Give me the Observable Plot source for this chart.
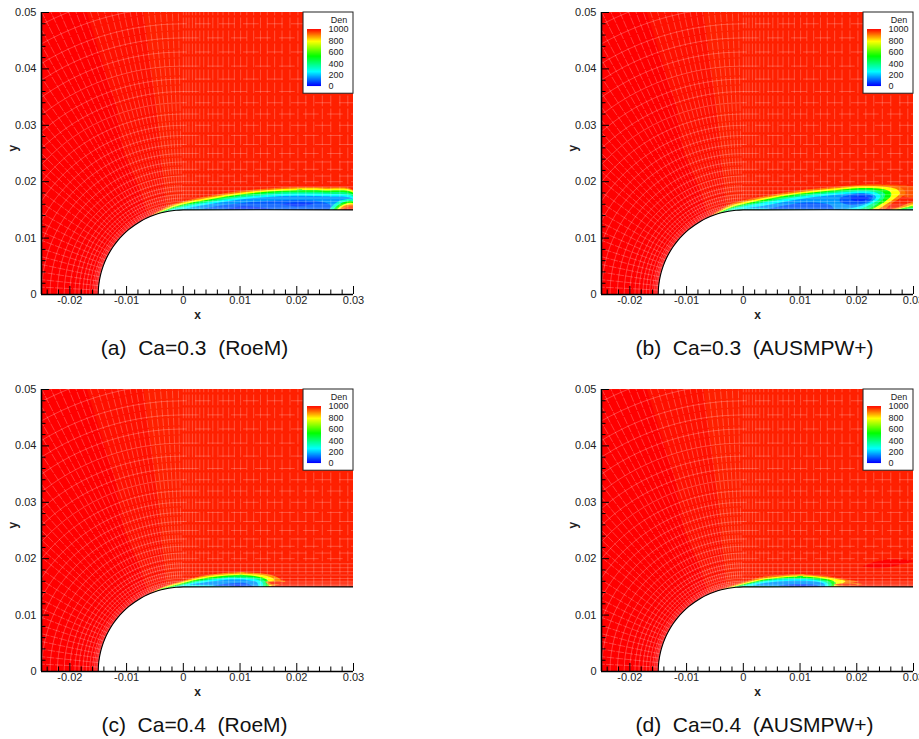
<!DOCTYPE html>
<html><head><meta charset="utf-8">
<script src="https://cdn.jsdelivr.net/npm/d3@7"></script>
<script src="https://cdn.jsdelivr.net/npm/@observablehq/plot@0.6"></script>
<style>
html,body{margin:0;padding:0;background:#fff;overflow:hidden}
#page{position:relative;width:919px;height:739px;overflow:hidden}
.panel{position:absolute;width:373px;height:320px}
.panel svg{overflow:visible;display:block}
.cap{position:absolute;width:373px;text-align:center;white-space:pre;font:21px "Liberation Sans",Arial,sans-serif;color:#111;line-height:24px}
</style></head><body><div id="page"></div>
<script>
// All lengths are millimetres; axis labels show metres.
const xTicks=[-20,-10,0,10,20,30];
const xTickLabels=["-0.02","-0.01","0","0.01","0.02","0.03"];
const yTicks=[0,10,20,30,40,50];
const yTickLabels=["0","0.01","0.02","0.03","0.04","0.05"];
const xMinor=[-24,-22,-18,-16,-14,-12,-8,-6,-4,-2,2,4,6,8,12,14,16,18,22,24,26,28];
const yMinor=[2,4,6,8,12,14,16,18,22,24,26,28,32,34,36,38,42,44,46,48];
const legendTicks=[0,200,400,600,800,1000];
const colorDomain=[0,250,520,780,1000];
const colorRange=["#0000ff","#00ffff","#00ff00","#ffff00","#ff0000"];

// Mesh
const meshRadii=[15.1,15.25,15.45,15.7,16,16.5,17.1,17.7,18.4,19.1,20,21,22.2,23.5,25,26.6,28.2,30,32,34,36,38.2,40.5,43,45.5,48,51,54,57];
const meshAngles=[0,3,6,9,12,15,18,21,24,27,30,33,36,39,41,43,45,47,49,51,53,55,57,59,60.5,62,63.5,65,66.5,68,69.3,70.6,71.9,73.2,74.5,75.8,77,78.2,79.4,80.6,81.8,83,84.2,85.4,86.6,87.8,89];
const meshX=[0,0.5,1,1.6,2.2,2.9,3.6,4.4,5.2,6.1,7,8,9,10.1,11.2,12.4,13.6,14.8,16.1,17.4,18.8,20.2,21.6,23,24.5,26,27.6,29];
const noseAngles=[0,5,10,15,20,25,30,35,40,45,50,55,60,65,70,75,80,85,90];

// Density fields: [level, outline as x,y pairs]; drawn outermost first
const bgLevels=[
 [986,[[-25,0],[-25,50],[-7,50],[-5,35],[-4,25],[-3,15],[0,0]]],
 [1000,[[-25,0],[-25,50],[-17,50],[-12,34],[-10.5,25],[-7.5,18],[-6,13],[-15,0]]]
];
const fieldA=[
 [900,[[-5.5,14.1],[-2.3,15.85],[0,16.55],[5,17.55],[10,18.35],[15,18.8],[20,19.05],[25,19],[30,18.5],[30.5,15]]],
 [780,[[-5,14.2],[-2.3,15.55],[0,16.3],[5,17.25],[10,18.05],[15,18.55],[20,18.8],[25,18.75],[30,18.25],[30.5,15]]],
 [520,[[-4.5,14.4],[-2.3,15.3],[0,16],[5,16.95],[10,17.75],[15,18.25],[20,18.5],[25,18.45],[30,17.95],[30.5,15]]],
 [380,[[-3.5,14.6],[-2.3,15.15],[0,15.8],[5,16.7],[10,17.5],[15,18],[20,18.2],[25,18.15],[30,17.65],[30.5,15]]],
 [250,[[-2.3,15],[0,15.55],[5,16.45],[10,17.2],[15,17.7],[20,17.9],[25,17.85],[30,17.3],[30.5,15]]],
 [150,[[0,15.2],[5,16.1],[10,16.85],[15,17.3],[20,17.5],[25,17.4],[30,16.9],[30.5,15]]],
 [90,[[3,15.1],[6,15.7],[10,16.2],[15,16.6],[20,16.7],[24,16.5],[26,15.8],[26,15]]],
 [50,[[7,15.05],[10,15.6],[13,15.5],[16,15.1]]],
 [50,[[17,16],[20,16.3],[23,16.1],[20,15.6]]],
 [300,[[25.7,15],[26.6,16],[28,16.75],[30,16.85],[30.5,15]]],
 [520,[[26.4,15],[27.2,15.8],[28.4,16.4],[30,16.5],[30.5,15]]],
 [780,[[27,15],[27.6,15.6],[28.6,16.1],[30,16.15],[30.5,15]]],
 [900,[[27.5,15],[28,15.5],[28.8,15.85],[30,15.9],[30.5,15]]],
 [960,[[28,15],[28.5,15.35],[29.2,15.55],[30,15.55],[30.5,15]]],
 [480,[[20,18.3],[21,18.3],[21,18.55],[20,18.55]]]
];
const fieldB=[
 [930,[[25,19.5],[29,19.3],[30.5,19],[30.5,17.5],[29,17.2],[27,18]]],
 [900,[[-5.5,14.1],[-2.3,16],[3.6,17.4],[9.5,18.4],[15.4,19],[21.2,19.45],[25.8,19.35],[28,18.8],[28.6,18],[27.5,17],[26,16],[25,15.1]]],
 [780,[[-5,14.2],[-2.3,15.7],[3.6,17.1],[9.5,18.1],[15.4,18.75],[21.2,19.2],[25.3,19.05],[27.3,18.5],[27.6,17.9],[26.5,16.9],[25,15.9],[23.8,15.1]]],
 [520,[[-4.5,14.4],[-2.3,15.4],[3.6,16.8],[9.5,17.8],[15.4,18.45],[21.2,18.9],[24.5,18.7],[26,18.1],[26,17.4],[25,16.5],[23.7,15.7],[22.6,15]]],
 [380,[[-3.5,14.6],[-2.3,15.25],[3.6,16.55],[9.5,17.55],[15.4,18.2],[21.2,18.6],[24,18.35],[25,17.8],[24.8,17.1],[23.8,16.2],[22.5,15.4],[21.8,15]]],
 [250,[[-2.3,15.1],[3.6,16.3],[9.5,17.3],[15.4,17.95],[21.2,18.3],[23.5,18.05],[24.2,17.5],[23.8,16.8],[22.5,16],[21,15.3],[20,15]]],
 [150,[[0,15.3],[3.6,15.75],[9.5,16.85],[15.4,17.6],[21.2,18],[23,17.7],[23.4,17.2],[22.8,16.6],[21,15.8],[19,15.3],[17,15]]],
 [85,[[4,15.1],[8,15.9],[11,16.3],[14,16.2],[15.5,15.8],[16,15.1]]],
 [85,[[17,17.2],[19,17.7],[21.5,17.8],[22.8,17.3],[22.3,16.6],[20.5,16],[18.5,15.9],[17,16.4]]],
 [40,[[19,17.3],[21,17.4],[22.2,17.1],[21.5,16.7],[20,16.5],[19,16.8]]],
 [880,[[25,15],[27,15.4],[30.5,16.4],[30.5,15]]],
 [780,[[26,15],[28,15.4],[30.5,16],[30.5,15]]],
 [520,[[27,15],[30.5,15.65],[30.5,15]]],
 [300,[[28,15],[30.5,15.3],[30.5,15]]]
];
const fieldC=[
 [880,[[-5.5,14.1],[-3,15.2],[0,16.1],[3,16.9],[6,17.35],[9.5,17.6],[13,17.45],[15.5,17.1],[17.2,16.2],[16,15.2]]],
 [780,[[-5,14.3],[-3,15.05],[0,15.9],[3,16.65],[6,17.1],[9.5,17.35],[13,17.2],[15,16.85],[16,16.3],[15.5,15.1]]],
 [520,[[-4.5,14.5],[-3,14.9],[0,15.7],[3,16.4],[6,16.85],[9.5,17.1],[12.5,16.95],[14.3,16.55],[15,16],[15,15]]],
 [380,[[-2,14.9],[0,15.5],[3,16.2],[6,16.6],[9.5,16.85],[12.5,16.7],[13.8,16.4],[14.5,15.9],[14.5,15]]],
 [250,[[-1.5,15],[0,15.35],[3,16],[6,16.4],[9.5,16.6],[12.5,16.4],[13.5,16.1],[14,15.7],[14,15]]],
 [150,[[1,15.4],[3,15.7],[6,16.1],[9.5,16.3],[12,16.1],[13,15.8],[13.3,15]]],
 [80,[[5,15.2],[8,15.6],[11,15.65],[12.5,15]]],
 [30,[[8,15.1],[9.5,15.35],[11,15.1]]],
 [880,[[14.4,15.9],[16,16.1],[18,16],[17,15.5],[16,15.25],[15,15.4]]],
 [970,[[15,15.8],[16.5,15.95],[18,15.8],[16.8,15.5],[15.6,15.45]]],
 [480,[[9.5,16.9],[10.5,16.9],[10.5,17.1],[9.5,17.1]]],
 [840,[[9.5,17.38],[10.8,17.38],[10.8,17.52],[9.5,17.52]]]
];
const fieldD=[
 [900,[[-5,14.1],[-3,14.9],[0,15.85],[3,16.7],[6,17.05],[10,17.25],[13.7,17],[16.6,16.6],[19,16.2],[20.3,15.95],[18.6,15.65],[17.5,15.2],[18.5,15]]],
 [780,[[-4.5,14.3],[-3,14.75],[0,15.65],[3,16.4],[6,16.8],[10,17],[13.7,16.8],[16.4,16.4],[18,16],[17.5,15.6],[16.8,15.1]]],
 [520,[[-4,14.4],[-3,14.6],[0,15.45],[3,16.2],[6,16.6],[10,16.8],[13.5,16.6],[15.5,16.2],[16.3,15.7],[15.9,15.1]]],
 [380,[[-1.5,15],[0,15.3],[3,16.05],[6,16.45],[10,16.6],[13.2,16.4],[15,16],[15.6,15.5],[15.4,15]]],
 [250,[[0,15.2],[3,15.85],[6,16.25],[10,16.4],[13,16.2],[14.6,15.8],[15,15.4],[14.9,15]]],
 [150,[[1.5,15.2],[3,15.55],[6,15.95],[10,16.1],[13,15.9],[14.3,15.5],[14.4,15]]],
 [80,[[6,15.15],[8,15.45],[11,15.5],[13,15.3],[13.5,15]]],
 [30,[[7.5,15.05],[8.5,15.2],[10.5,15.3],[12,15.05]]],
 [900,[[15.9,15.4],[17,15.6],[19,15.75],[21,15.5],[19,15.15],[17,15.1]]],
 [970,[[16.4,15.4],[17.5,15.5],[19,15.55],[20,15.4],[18,15.2]]],
 [480,[[9.5,16.7],[10.5,16.7],[10.5,16.9],[9.5,16.9]]],
 [840,[[9.5,17.03],[10.8,17.03],[10.8,17.17],[9.5,17.17]]],
 [1000,[[21,18.6],[24,18.3],[28,19],[30,19.6],[26,19.9],[23,19.4]]]
];
const panels=[
 {left:0,top:0,caption:"(a)  Ca=0.3  (RoeM)",field:fieldA},
 {left:560,top:0,caption:"(b)  Ca=0.3  (AUSMPW+)",field:fieldB},
 {left:0,top:377,caption:"(c)  Ca=0.4  (RoeM)",field:fieldC},
 {left:560,top:377,caption:"(d)  Ca=0.4  (AUSMPW+)",field:fieldD}
];

const rad=a=>a*Math.PI/180;
// Mesh: polar around the nose centre for x<0, Cartesian for x>0
const arcRows=[],rayRows=[],rowEven=[],rowOdd=[],colRows=[],rowNear=[];
meshRadii.forEach((r,j)=>{
  noseAngles.forEach(a=>arcRows.push({id:j,x:-r*Math.cos(rad(a)),y:r*Math.sin(rad(a))}));
  const t=r<20?rowNear:(j%2?rowOdd:rowEven);
  t.push({id:j,x:0,y:r},{id:j,x:30,y:r});
});
meshAngles.forEach((a,i)=>{
  [15,60].forEach(r=>rayRows.push({id:i,x:-r*Math.cos(rad(a)),y:r*Math.sin(rad(a))}));
});
meshX.forEach((x,i)=>{[15,50].forEach(y=>colRows.push({id:i,x,y}));});
const outline=noseAngles.map(a=>({x:-15*Math.cos(rad(a)),y:15*Math.sin(rad(a))})).concat([{x:30,y:15}]);
const bodyFill=outline.concat([{x:30,y:0}]);
const toRows=f=>f.flatMap(([v,pts],i)=>pts.map(([x,y])=>({id:i,v,x,y})));
const legY=v=>36.87+v*0.0101;
const meshStyle={x:"x",y:"y",z:"id",stroke:"#fff",strokeOpacity:0.27,strokeWidth:0.9,clip:true};

const page=document.getElementById("page");
for(const p of panels){
  const fieldRows=toRows(p.field), bgRows=toRows(bgLevels);
  const svg=Plot.plot({
    width:373,height:320,marginLeft:41,marginRight:20,marginTop:12,marginBottom:26,
    x:{domain:[-25,30],axis:null},
    y:{domain:[0,50],axis:null},
    color:{type:"linear",domain:colorDomain,range:colorRange,interpolate:"rgb"},
    style:{background:"transparent",fontFamily:"'Liberation Sans',Arial,sans-serif",fontSize:"11px",color:"#222"},
    marks:[
      Plot.rect([972],{x1:-25,x2:30,y1:0,y2:50,fill:d=>d}),
      Plot.line(bgRows,{x:"x",y:"y",z:"id",fill:"v",stroke:"none",clip:true}),
      Plot.line(fieldRows,{x:"x",y:"y",z:"id",fill:"v",stroke:"none",curve:"catmull-rom",clip:true}),
      Plot.line(arcRows,{...meshStyle,curve:"catmull-rom"}),
      Plot.line(rayRows,{...meshStyle,strokeDasharray:"7 2"}),
      Plot.line(rowNear,meshStyle),
      Plot.line(rowEven,{...meshStyle,strokeDasharray:"15 9"}),
      Plot.line(rowOdd,{...meshStyle,strokeDasharray:"15 9",strokeDashoffset:12}),
      Plot.line(colRows,{...meshStyle,strokeDasharray:"10 3"}),
      Plot.line(bodyFill,{x:"x",y:"y",fill:"#fff",stroke:"none",curve:"linear",clip:true}),
      Plot.line(outline,{x:"x",y:"y",stroke:"#000",strokeWidth:1.1,curve:"catmull-rom",clip:true}),
      Plot.ruleX(xTicks,{y1:0,y2:1.42,stroke:"#000"}),
      Plot.ruleX(xMinor,{y1:0,y2:0.8,stroke:"#000"}),
      Plot.ruleY(yTicks,{x1:-25,x2:-23.6,stroke:"#000"}),
      Plot.ruleY(yMinor,{x1:-25,x2:-24.2,stroke:"#000"}),
      Plot.ruleX([-25],{y1:0,y2:50,stroke:"#000",strokeWidth:1.6}),
      Plot.ruleY([0],{x1:-25,x2:30,stroke:"#000",strokeWidth:1.4}),
      Plot.axisX(xTicks,{anchor:"bottom",tickSize:0,tickPadding:2,label:null,tickFormat:(d,i)=>xTickLabels[i],fontSize:11,fill:"#222"}),
      Plot.axisY(yTicks,{anchor:"left",tickSize:0,tickPadding:5,label:null,tickFormat:(d,i)=>yTickLabels[i],fontSize:11,fill:"#222"}),
      Plot.text(["x"],{frameAnchor:"bottom",dy:24,fontWeight:"bold",fontSize:12,fill:"#222",text:d=>d,lineAnchor:"bottom"}),
      Plot.text(["y"],{frameAnchor:"left",dx:-28,dy:-2,fontWeight:"bold",fontSize:12,fill:"#222",rotate:-90,text:d=>d}),
      // legend
      Plot.rect([1],{x1:21.19,x2:30,y1:35.6,y2:50,fill:"#fff",stroke:"#222",strokeWidth:1}),
      Plot.rect(d3.range(0,1000,10),{x1:21.89,x2:24.36,y1:v=>legY(v),y2:v=>legY(Math.min(v+25,1000)),fill:v=>v}),
      Plot.text(legendTicks,{x:25.6,y:v=>legY(v),text:String,textAnchor:"start",fontSize:9,fill:"#222"}),
      Plot.text(["Den"],{x:28.9,y:48.6,text:d=>d,textAnchor:"end",fontSize:9,fill:"#222"})
    ]
  });
  // soften the contour bands (third mark group: background rect, background levels, field)
  const lineGroups=[...svg.querySelectorAll('g[aria-label="line"]')];
  if(lineGroups[1]) lineGroups[1].querySelectorAll("path").forEach(q=>q.style.filter="blur(0.5px)");
  const div=document.createElement("div");
  div.className="panel";div.style.left=p.left+"px";div.style.top=p.top+"px";
  div.appendChild(svg);page.appendChild(div);
  const cap=document.createElement("div");
  cap.className="cap";cap.textContent=p.caption;
  cap.style.left=(p.left+8)+"px";cap.style.top=(p.top+336)+"px";
  page.appendChild(cap);
}
</script></body></html>
